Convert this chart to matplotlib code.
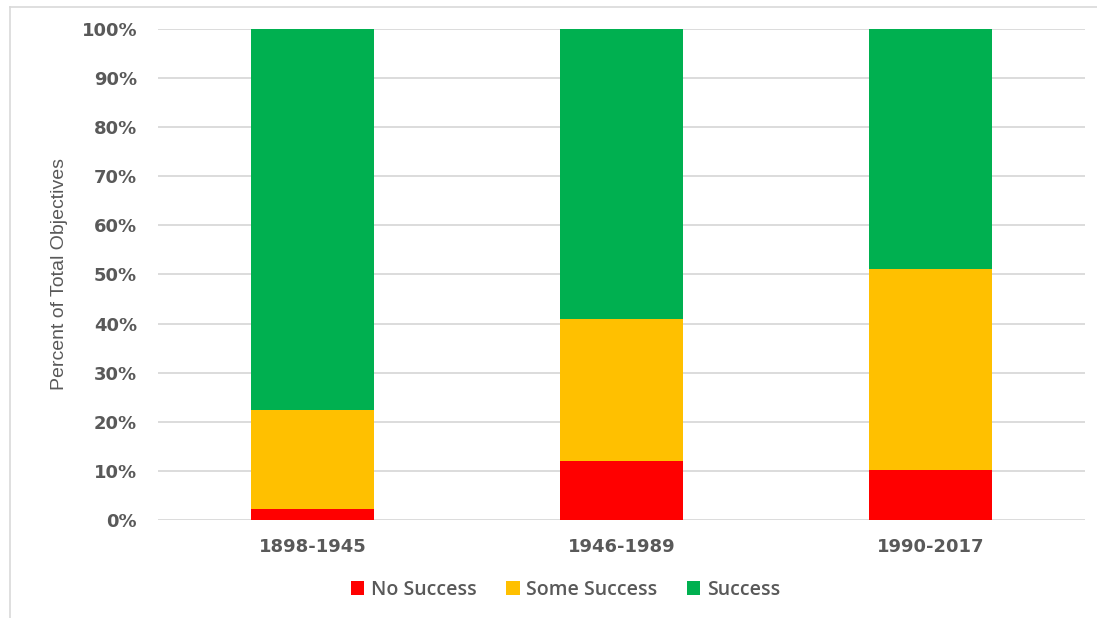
"""Stacked percentage bars of objective outcomes by period."""

import matplotlib.pyplot as plt
from matplotlib.lines import Line2D
from matplotlib.patches import Patch
from matplotlib.ticker import FuncFormatter


PERIODS = ["1898-1945", "1946-1989", "1990-2017"]
NO_SUCCESS = [2.2, 12.0, 10.2]
SOME_SUCCESS = [20.1, 28.9, 40.9]
SUCCESS = [77.7, 59.1, 48.9]

SERIES_NAMES = ["No Success", "Some Success", "Success"]
SERIES_COLORS = ["#FF0000", "#FFC000", "#00B050"]
TEXT_COLOR = "#595959"
GRID_COLOR = "#d9d9d9"


def main() -> None:
    figure = plt.figure(figsize=(10.97, 6.18), dpi=100)
    axis = figure.add_axes([0.144, 0.1586, 0.845, 0.7945])

    positions = range(len(PERIODS))
    bottom = [0.0] * len(PERIODS)
    for values, color in zip([NO_SUCCESS, SOME_SUCCESS, SUCCESS], SERIES_COLORS):
        axis.bar(positions, values, width=0.4, bottom=bottom, color=color, zorder=3)
        bottom = [b + v for b, v in zip(bottom, values)]

    axis.set_xlim(-0.5, len(PERIODS) - 0.5)
    axis.set_ylim(0, 100)
    axis.set_yticks(range(0, 101, 10))
    axis.yaxis.set_major_formatter(FuncFormatter(lambda v, _: f"{v:.0f}%"))
    axis.set_xticks(list(positions))
    axis.set_xticklabels(PERIODS)

    for label in axis.get_xticklabels() + axis.get_yticklabels():
        label.set_fontfamily("DejaVu Sans")
        label.set_fontweight("bold")
        label.set_fontsize(13)
        label.set_color(TEXT_COLOR)
    axis.tick_params(axis="both", length=0)
    axis.tick_params(axis="x", pad=13)
    axis.tick_params(axis="y", pad=15)

    axis.grid(axis="y", color=GRID_COLOR, linewidth=1.3, zorder=0)
    for spine in axis.spines.values():
        spine.set_visible(False)

    axis.set_ylabel(
        "Percent of Total Objectives",
        fontfamily="Liberation Sans",
        fontsize=14,
        color=TEXT_COLOR,
        labelpad=10,
    )

    handles = [Patch(facecolor=c, edgecolor="none") for c in SERIES_COLORS]
    legend = figure.legend(
        handles,
        SERIES_NAMES,
        loc="center",
        bbox_to_anchor=(0.5155, 0.0453),
        ncol=3,
        frameon=False,
        handlelength=0.7,
        handleheight=0.7,
        handletextpad=0.35,
        columnspacing=1.5,
        prop={"family": "Open Sans", "weight": "semibold", "size": 14},
    )
    for text in legend.get_texts():
        text.set_color(TEXT_COLOR)

    # light chart-area frame, cropped at right and bottom
    figure.add_artist(
        Line2D([10 / 1097, 10 / 1097], [0, 1 - 7 / 618], color=GRID_COLOR,
               linewidth=1.2, transform=figure.transFigure)
    )
    figure.add_artist(
        Line2D([10 / 1097, 1], [1 - 7 / 618, 1 - 7 / 618], color=GRID_COLOR,
               linewidth=1.2, transform=figure.transFigure)
    )

    figure.savefig("out.png", dpi=100)
    plt.close(figure)


if __name__ == "__main__":
    main()
